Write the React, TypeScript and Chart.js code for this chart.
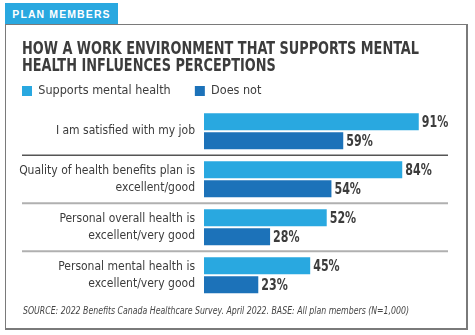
import React, { useEffect, useRef } from "react";
import { Chart, registerables } from "chart.js";

Chart.register(...registerables);

const categories: string[][] = [
  ["I am satisfied with my job"],
  ["Quality of health benefits plan is", "excellent/good"],
  ["Personal overall health is", "excellent/very good"],
  ["Personal mental health is", "excellent/very good"],
];
const supportsValues = [91, 84, 52, 45];
const doesNotValues = [59, 54, 28, 23];
const seriesNames = ["Supports mental health", "Does not"];
const titleLines = [
  "HOW A WORK ENVIRONMENT THAT SUPPORTS MENTAL",
  "HEALTH INFLUENCES PERCEPTIONS",
];
const sourceText =
  "SOURCE: 2022 Benefits Canada Healthcare Survey. April 2022. BASE: All plan members (N=1,000)";
const tabText = "PLAN MEMBERS";

const LIGHT = "#29a8e0";
const DARK = "#1c72b9";
const TEXT = "#3c3c3c";
const FONT = "'DejaVu Sans Condensed', 'DejaVu Sans', sans-serif";

// value labels at the end of each bar (condensed to mimic the narrow face)
const valueLabels = {
  id: "valueLabels",
  afterDatasetsDraw(chart: any) {
    const ctx = chart.ctx;
    ctx.save();
    ctx.font = `bold 15px ${FONT}`;
    ctx.fillStyle = TEXT;
    ctx.textBaseline = "middle";
    ctx.textAlign = "left";
    chart.data.datasets.forEach((ds: any, di: number) => {
      const meta = chart.getDatasetMeta(di);
      meta.data.forEach((bar: any, i: number) => {
        const t = `${ds.data[i]}%`;
        const w = ctx.measureText(t).width;
        ctx.fillText(t, bar.x + 3, bar.y + 1.5, w * 0.82);
      });
    });
    ctx.restore();
  },
};

// separator rules between categories
const separators = {
  id: "separators",
  afterDraw(chart: any) {
    const ctx = chart.ctx;
    const y = chart.scales.y;
    ctx.save();
    for (let i = 1; i < categories.length; i++) {
      const py = (y.getPixelForTick(i - 1) + y.getPixelForTick(i)) / 2;
      ctx.beginPath();
      ctx.strokeStyle = i === 1 ? "#555555" : "#b0b0b0";
      ctx.lineWidth = i === 1 ? 1.5 : 2;
      ctx.moveTo(22, py);
      ctx.lineTo(448, py);
      ctx.stroke();
    }
    ctx.restore();
  },
};

// condensed heading and source note
const headings = {
  id: "headings",
  afterDraw(chart: any) {
    const ctx = chart.ctx;
    ctx.save();
    ctx.fillStyle = TEXT;
    ctx.textAlign = "left";
    ctx.textBaseline = "alphabetic";
    ctx.font = `bold 18.5px ${FONT}`;
    const w0 = ctx.measureText(titleLines[0]).width;
    const squeeze = 397 / w0;
    titleLines.forEach((line, i) => {
      const w = ctx.measureText(line).width;
      ctx.fillText(line, 22, 54.3 + i * 16.4, w * squeeze);
    });
    ctx.fillStyle = "#444444";
    ctx.font = `italic 10px ${FONT}`;
    ctx.fillText(sourceText, 23, 314, 386);
    ctx.restore();
  },
};

export default function App() {
  const ref = useRef<HTMLCanvasElement>(null);
  useEffect(() => {
    if (!ref.current) return;
    const chart = new Chart(ref.current, {
      type: "bar",
      data: {
        labels: categories,
        datasets: [
          {
            label: seriesNames[0],
            data: supportsValues,
            backgroundColor: LIGHT,
            categoryPercentage: 0.79,
            barPercentage: 0.9,
          },
          {
            label: seriesNames[1],
            data: doesNotValues,
            backgroundColor: DARK,
            categoryPercentage: 0.79,
            barPercentage: 0.9,
          },
        ],
      },
      options: {
        indexAxis: "y",
        animation: false,
        responsive: false,
        layout: { padding: { left: 17, right: 35, top: 79.75, bottom: 35.8 } },
        scales: {
          x: { display: false, min: 0, max: 100 },
          y: {
            grid: { display: false, drawTicks: false },
            border: { display: false },
            afterFit: (s: any) => {
              s.width = 187;
            },
            ticks: {
              color: TEXT,
              padding: 9,
              font: { family: FONT, size: 12, lineHeight: 1.38 },
            },
          },
        },
        plugins: {
          tooltip: { enabled: false },
          title: { display: false },
          legend: {
            display: true,
            align: "start",
            labels: {
              boxWidth: 10,
              boxHeight: 10,
              padding: 5,
              color: TEXT,
              font: { family: FONT, size: 12.5 },
              generateLabels: (c: any) => {
                const items = Chart.defaults.plugins.legend.labels.generateLabels(c);
                return items.map((it: any, i: number) =>
                  i === 0 ? { ...it, text: it.text + "\u2002\u2002\u2002\u2009" } : it
                );
              },
            },
          },
        },
      },
      plugins: [valueLabels, separators, headings],
    });
    return () => chart.destroy();
  }, []);

  return (
    <div
      style={{
        position: "fixed",
        left: 0,
        top: 0,
        width: 475,
        height: 335,
        background: "#fff",
        overflow: "hidden",
      }}
    >
      <div
        style={{
          position: "absolute",
          left: 5,
          top: 24,
          width: 460,
          height: 303,
          borderStyle: "solid",
          borderColor: "#7a7a7a",
          borderWidth: "1px 2px 2px 1px",
        }}
      />
      <div
        style={{
          position: "absolute",
          left: 5,
          top: 3,
          width: 113,
          height: 21,
          background: LIGHT,
          color: "#fff",
          fontFamily: "'Liberation Sans', sans-serif",
          fontWeight: "bold",
          fontSize: 10.5,
          letterSpacing: 1.1,
          lineHeight: "22px",
          textAlign: "center",
        }}
      >
        {tabText}
      </div>
      <canvas
        ref={ref}
        width={475}
        height={335}
        style={{ position: "absolute", left: 0, top: 0 }}
      />
    </div>
  );
}
